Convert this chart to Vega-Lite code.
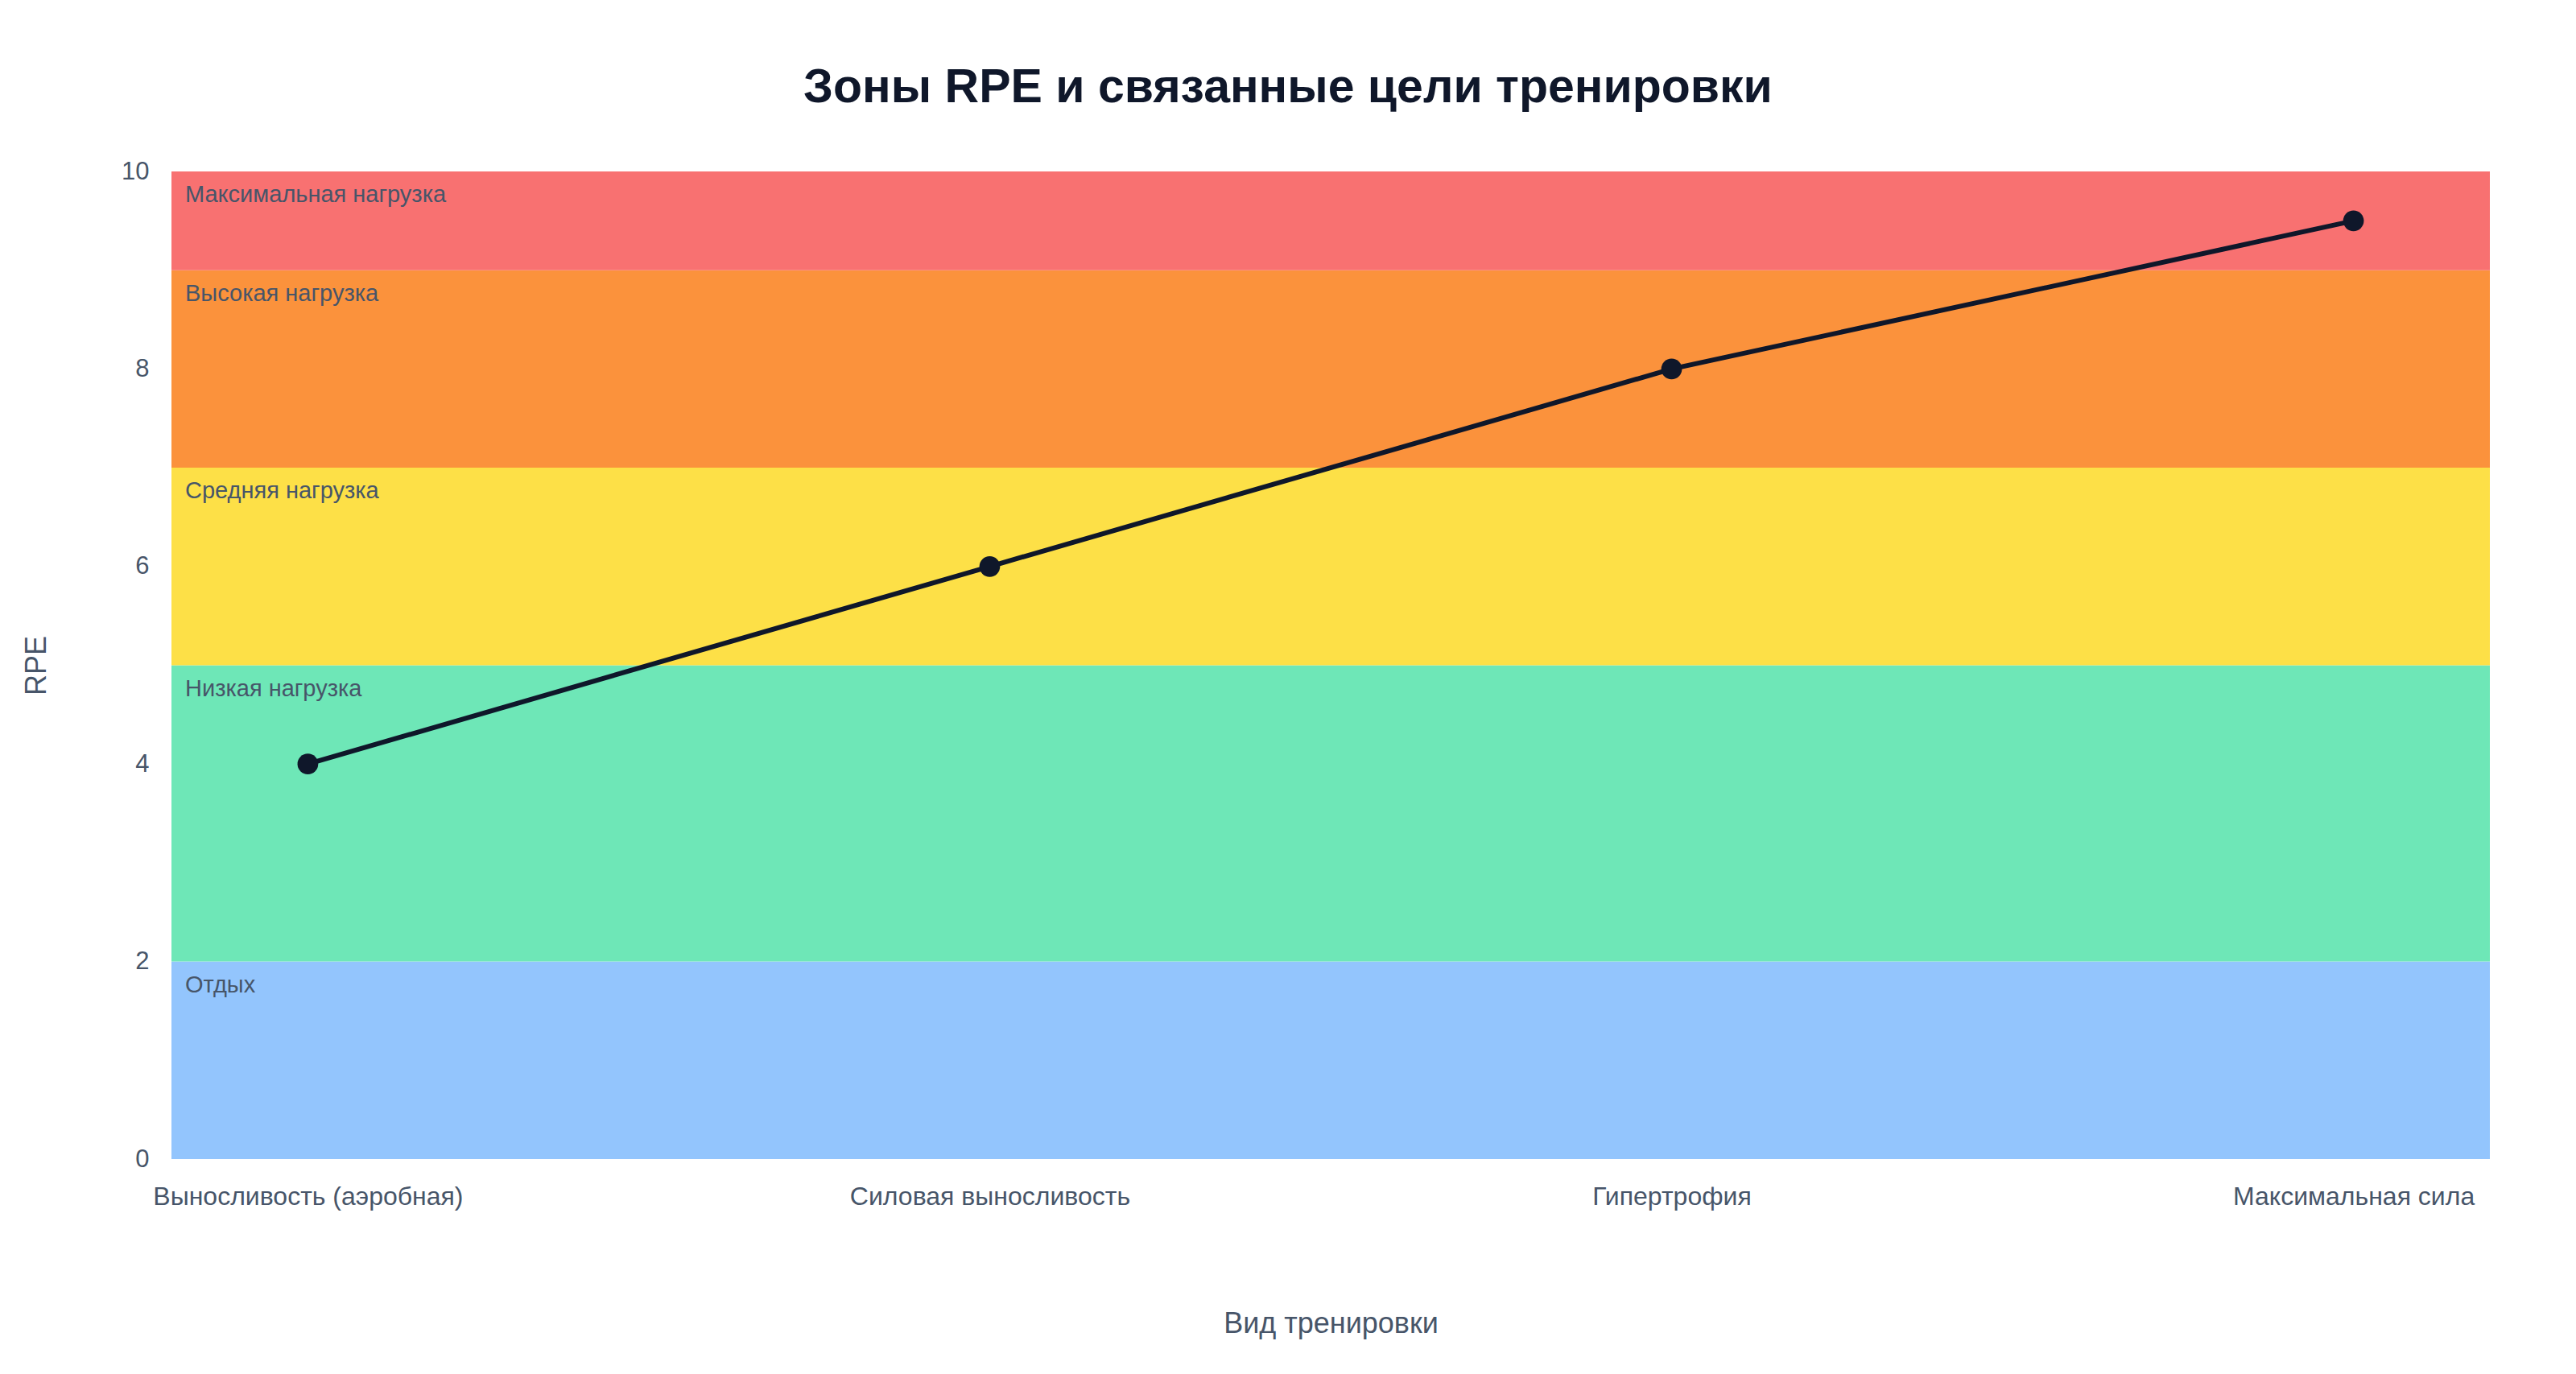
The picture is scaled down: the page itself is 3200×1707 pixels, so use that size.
{
  "$schema": "https://vega.github.io/schema/vega-lite/v6.json",
  "width": 2880,
  "height": 1227,
  "autosize": {"type": "none"},
  "padding": {"left": 213, "top": 213, "right": 107, "bottom": 267},
  "background": "white",
  "config": {
    "font": "Liberation Sans",
    "view": {"stroke": null}
  },
  "title": {
    "text": "Зоны RPE и связанные цели тренировки",
    "fontSize": 59,
    "fontWeight": "bold",
    "color": "#0f172a",
    "anchor": "middle",
    "dx": -53,
    "offset": 58
  },
  "datasets": {
    "zones": [
      {"zone": "Отдых", "lo": 0, "hi": 2, "color": "#93C5FD"},
      {"zone": "Низкая нагрузка", "lo": 2, "hi": 5, "color": "#6EE7B7"},
      {"zone": "Средняя нагрузка", "lo": 5, "hi": 7, "color": "#FDE047"},
      {"zone": "Высокая нагрузка", "lo": 7, "hi": 9, "color": "#FB923C"},
      {"zone": "Максимальная нагрузка", "lo": 9, "hi": 10, "color": "#F87171"}
    ],
    "goals": [
      {"goal": "Выносливость (аэробная)", "rpe": 4},
      {"goal": "Силовая выносливость", "rpe": 6},
      {"goal": "Гипертрофия", "rpe": 8},
      {"goal": "Максимальная сила", "rpe": 9.5}
    ]
  },
  "layer": [
    {
      "data": {"name": "zones"},
      "mark": {"type": "rect"},
      "encoding": {
        "y": {"field": "lo", "type": "quantitative", "scale": {"domain": [0, 10]}},
        "y2": {"field": "hi"},
        "color": {"field": "color", "type": "nominal", "scale": null, "legend": null}
      }
    },
    {
      "data": {"name": "zones"},
      "mark": {"type": "text", "align": "left", "baseline": "top", "dx": 17, "dy": 15, "fontSize": 29, "color": "#475569"},
      "encoding": {
        "x": {"value": 0},
        "y": {"field": "hi", "type": "quantitative"},
        "text": {"field": "zone"}
      }
    },
    {
      "data": {"name": "goals"},
      "mark": {"type": "line", "color": "#0f172a", "strokeWidth": 6},
      "encoding": {
        "x": {
          "field": "goal",
          "type": "nominal",
          "sort": null,
          "scale": {"type": "point", "padding": 0.2},
          "title": "Вид тренировки",
          "axis": {
            "labelAngle": 0,
            "labelFontSize": 32,
            "labelLimit": 0,
            "labelColor": "#475569",
            "labelPadding": 31,
            "ticks": false,
            "domain": false,
            "grid": false,
            "titleFontSize": 36,
            "titleFontWeight": "normal",
            "titleColor": "#475569",
            "titlePadding": 125
          }
        },
        "y": {
          "field": "rpe",
          "type": "quantitative",
          "title": "RPE",
          "scale": {"domain": [0, 10]},
          "axis": {
            "values": [0, 2, 4, 6, 8, 10],
            "format": "d",
            "labelFontSize": 31,
            "labelColor": "#475569",
            "labelPadding": 28,
            "ticks": false,
            "domain": false,
            "grid": false,
            "titleFontSize": 36,
            "titleFontWeight": "normal",
            "titleColor": "#475569",
            "titlePadding": 86
          }
        }
      }
    },
    {
      "data": {"name": "goals"},
      "mark": {"type": "circle", "color": "#0f172a", "opacity": 1, "size": 660},
      "encoding": {
        "x": {"field": "goal", "type": "nominal", "sort": null},
        "y": {"field": "rpe", "type": "quantitative"}
      }
    }
  ]
}
